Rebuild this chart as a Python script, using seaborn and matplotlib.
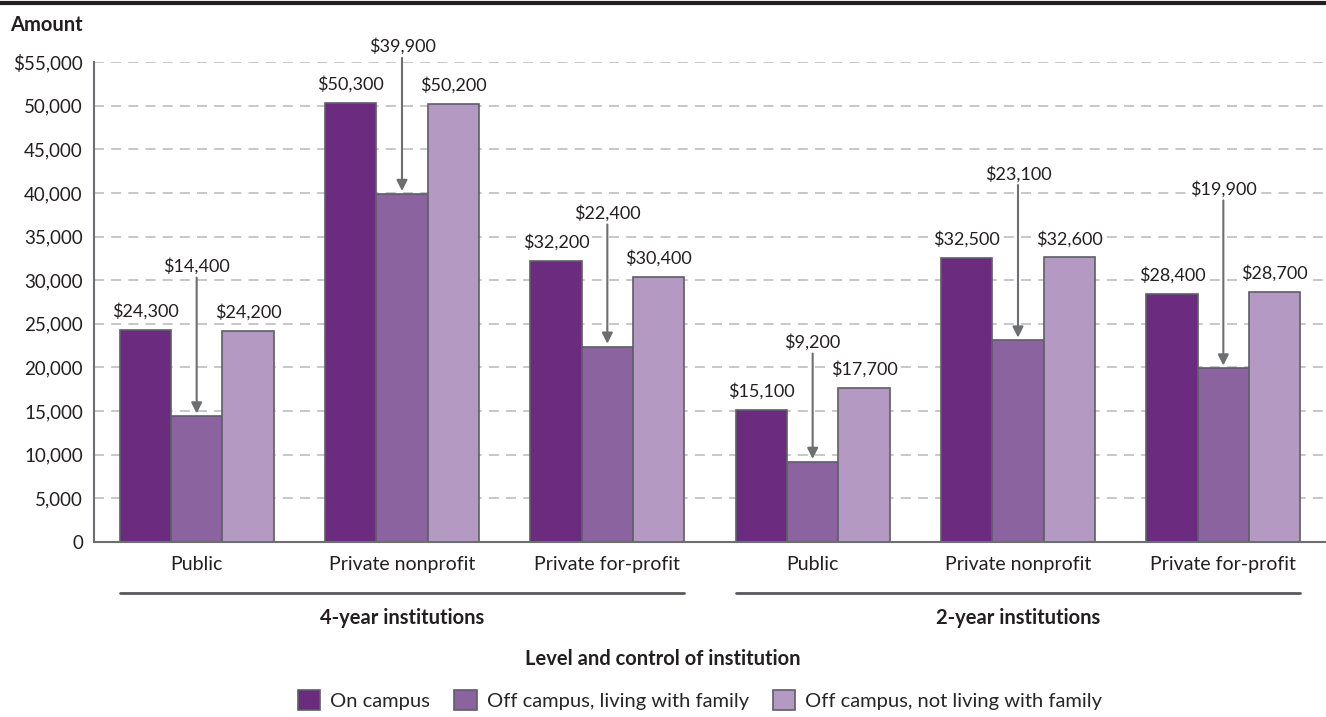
import pandas as pd
import matplotlib
matplotlib.use("Agg")
import matplotlib.pyplot as plt
import matplotlib.transforms as mtransforms
from matplotlib.patches import Patch
import seaborn as sns

# data
levels = ["4-year institutions", "2-year institutions"]
controls = ["Public", "Private nonprofit", "Private for-profit"]
housing = ["On campus", "Off campus, living with family", "Off campus, not living with family"]
on_campus = [24300, 50300, 32200, 15100, 32500, 28400]
off_with_family = [14400, 39900, 22400, 9200, 23100, 19900]
off_not_family = [24200, 50200, 30400, 17700, 32600, 28700]
y_ticks = list(range(0, 55001, 5000))

# layout only: how far (points) the callout label of the middle bar sits above its bar
callout_offsets = [108, 106, 96, 86, 120, 129]

colors = ["#6b2c80", "#8b639e", "#b49ac3"]
edge = "#5d5f66"
grey = "#6d6e71"
ink = "#231f20"

keys = [f"{lv}|{c}" for lv in levels for c in controls]
rows = []
for h, vals in zip(housing, [on_campus, off_with_family, off_not_family]):
    for k, v in zip(keys, vals):
        rows.append({"key": k, "housing": h, "amount": v})
df = pd.DataFrame(rows)

sns.set_style("white")
plt.rcParams["font.family"] = ["Lato", "DejaVu Sans"]

fig = plt.figure(figsize=(13.26, 7.17), dpi=100)
ax = fig.add_axes([94 / 1326, 1 - 542 / 717, 1 - 94 / 1326, 480 / 717])

sns.barplot(data=df, x="key", y="amount", hue="housing", order=keys, hue_order=housing,
            palette=colors, width=0.75, saturation=1, edgecolor=edge, linewidth=1.2,
            legend=False, ax=ax, zorder=3)

ax.set_xlim(-0.5, 5.5)
ax.set_ylim(0, 55000)
ax.set_yticks(y_ticks)
ax.set_yticklabels(["$55,000" if v == 55000 else f"{v:,}" for v in y_ticks], fontsize=13.5, color=ink)
ax.set_xticks(range(len(keys)))
ax.set_xticklabels(controls * 2, fontsize=14, color=ink)
ax.tick_params(axis="x", length=0, pad=10)
ax.tick_params(axis="y", length=0, pad=8)
ax.set_xlabel("")
ax.set_ylabel("")

ax.yaxis.grid(True, linestyle=(0, (6, 4.3)), color="#bcbec0", linewidth=1.2, zorder=0)
ax.set_axisbelow(True)
for s in ["top", "right"]:
    ax.spines[s].set_visible(False)
for s in ["left", "bottom"]:
    ax.spines[s].set_color(grey)
    ax.spines[s].set_linewidth(1.5)
    ax.spines[s].set_zorder(4)

# value labels
box = dict(facecolor="white", edgecolor="none", pad=1)
for ci, cont in enumerate(ax.containers):
    for bi, bar in enumerate(cont):
        x = bar.get_x() + bar.get_width() / 2
        h = bar.get_height()
        if ci == 1:
            ax.annotate(f"${h:,.0f}", xy=(x, h), xytext=(0, callout_offsets[bi]),
                        textcoords="offset points", ha="center", va="center",
                        fontsize=13, color=ink, bbox=box, zorder=5,
                        arrowprops=dict(arrowstyle="-|>", color=grey, lw=1.5,
                                        mutation_scale=16, shrinkA=1, shrinkB=2))
        else:
            ax.annotate(f"${h:,.0f}", xy=(x, h), xytext=(0, 13.5),
                        textcoords="offset points", ha="center", va="center",
                        fontsize=13, color=ink, bbox=box, zorder=5)

# group brackets under the categories
trans = mtransforms.blended_transform_factory(ax.transData, ax.transAxes)
for i, lv in enumerate(levels):
    x0 = i * 3 - 0.375
    x1 = i * 3 + 2.375
    ax.plot([x0, x1], [-0.106, -0.106], transform=trans, color="#58595b", lw=2, clip_on=False)
    ax.text(i * 3 + 1, -0.158, lv, transform=trans, ha="center", va="center",
            fontsize=14.5, fontweight="bold", color=ink)

fig.text(10 / 1326, 1 - 25 / 717, "Amount", ha="left", va="center", fontsize=14.5,
         fontweight="bold", color=ink)
fig.text(0.5, 1 - 659 / 717, "Level and control of institution", ha="center", va="center",
         fontsize=14.5, fontweight="bold", color=ink)
fig.add_artist(plt.Line2D([0, 1], [1 - 3 / 717, 1 - 3 / 717], color=ink, lw=3,
                          transform=fig.transFigure))

handles = [Patch(facecolor=c, edgecolor=edge, linewidth=1.2, label=h) for c, h in zip(colors, housing)]
fig.legend(handles=handles, loc="center", bbox_to_anchor=(0.528, 1 - 700 / 717), ncol=3,
           frameon=False, fontsize=14.5, handlelength=1.1, handleheight=1.1,
           handletextpad=0.5, columnspacing=1.2)

fig.savefig("out.png", dpi=100)
plt.close(fig)
